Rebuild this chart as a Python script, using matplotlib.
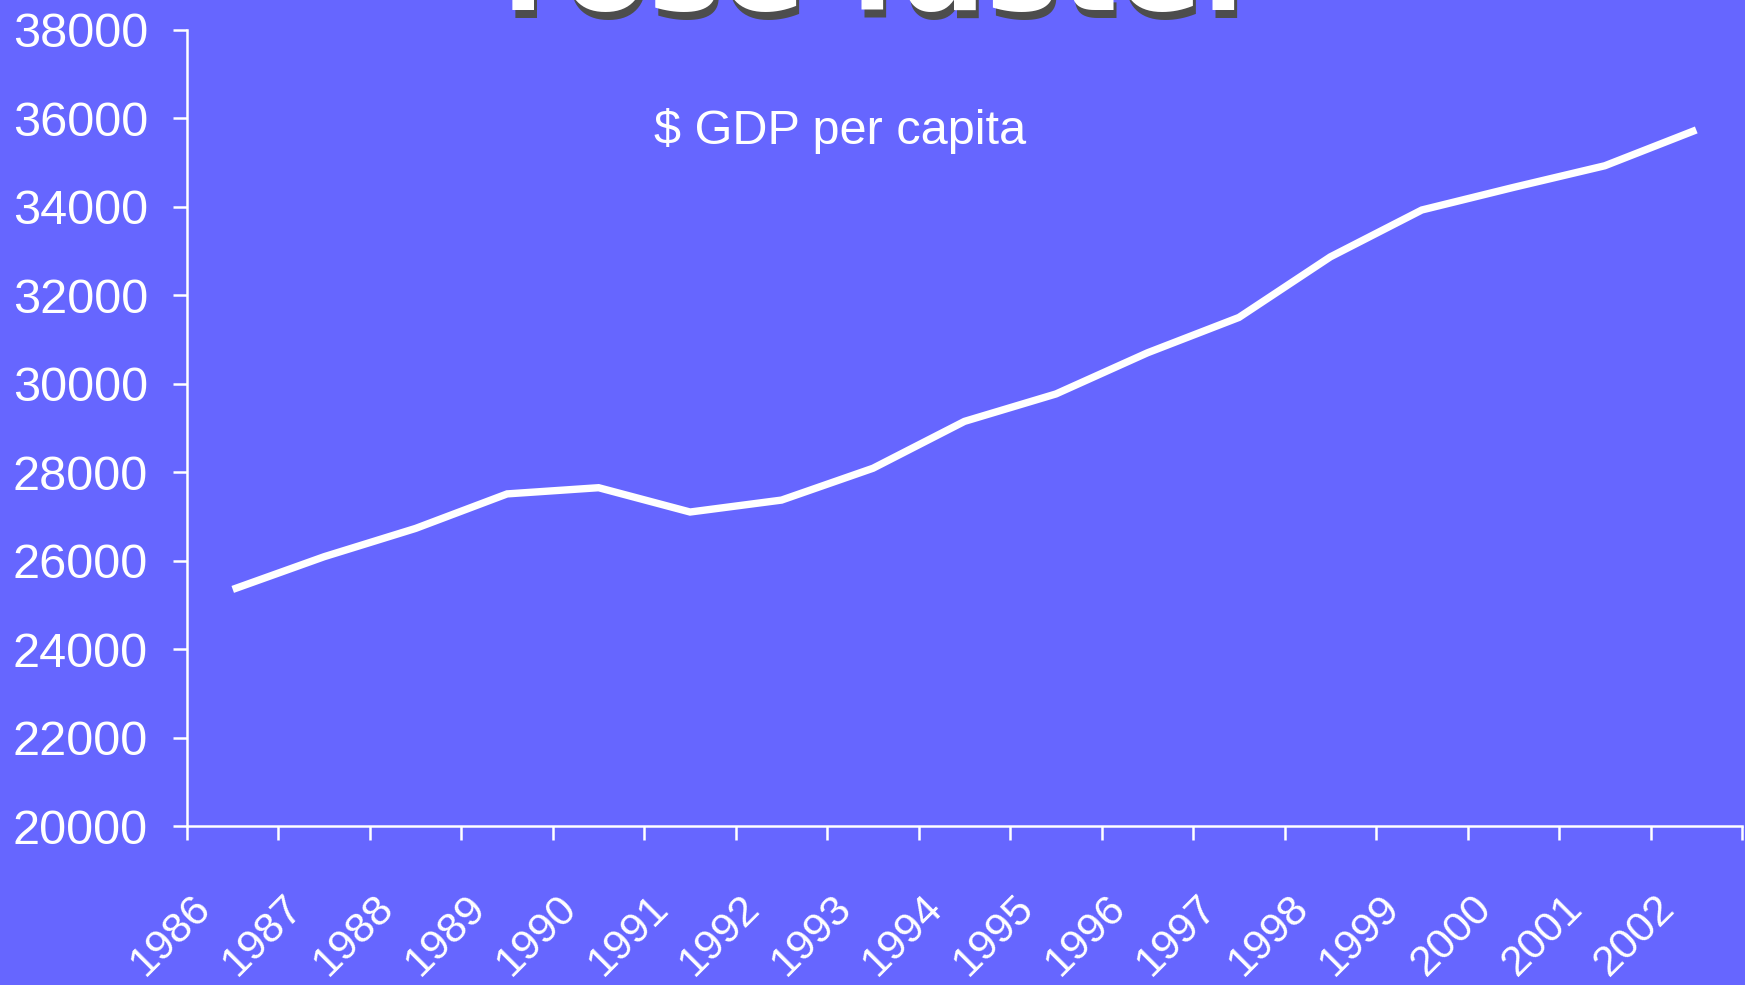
import matplotlib
matplotlib.use("Agg")
import matplotlib.pyplot as plt
from matplotlib.transforms import ScaledTranslation
import numpy as np

years = ["1986", "1987", "1988", "1989", "1990", "1991", "1992", "1993", "1994",
         "1995", "1996", "1997", "1998", "1999", "2000", "2001", "2002"]
gdp_per_capita = [25350, 26090, 26730, 27510, 27650, 27100, 27370, 28090, 29150,
                  29770, 30700, 31500, 32870, 33930, 34440, 34930, 35740]
y_ticks = [20000, 22000, 24000, 26000, 28000, 30000, 32000, 34000, 36000, 38000]
title_text = "rose faster"
series_label = "$ GDP per capita"

BG = "#6666FF"
W, H, DPI = 1745, 985, 100

fig = plt.figure(figsize=(W / DPI, H / DPI), dpi=DPI, facecolor=BG)
ax = fig.add_axes([187 / W, 1 - 826 / H, (1742 - 187) / W, (826 - 30) / H])
ax.set_facecolor(BG)

n = len(years)
centers = np.arange(n) + 0.5
ax.plot(centers, gdp_per_capita, color="white", lw=5.3,
        solid_capstyle="butt", solid_joinstyle="miter", clip_on=False)

ax.set_xlim(0, n)
ax.set_ylim(y_ticks[0], y_ticks[-1])

for s in ["top", "right"]:
    ax.spines[s].set_visible(False)
for s in ["left", "bottom"]:
    ax.spines[s].set_color("white")
    ax.spines[s].set_linewidth(1.8)

font = "Liberation Sans"
ax.set_yticks(y_ticks)
ax.set_yticklabels([str(v) for v in y_ticks], fontsize=35, color="white",
                   family=font)
ax.tick_params(axis="y", length=10, width=1.8, color="white", pad=18)

# boundary ticks (minor) and centered labels (major)
ax.set_xticks(np.arange(n + 1), minor=True)
ax.tick_params(axis="x", which="minor", length=10, width=1.8, color="white")
ax.set_xticks(centers)
ax.set_xticklabels(years, fontsize=31, color="white", family=font,
                   rotation=45, ha="right", va="center", rotation_mode="anchor")
ax.tick_params(axis="x", which="major", length=0, pad=54.5)
off = ScaledTranslation(-28 / DPI, 0, fig.dpi_scale_trans)
for lab in ax.get_xticklabels():
    lab.set_transform(lab.get_transform() + off)

ax.text((654 - 187) / (1742 - 187), (826 - 144) / (826 - 30), series_label,
        transform=ax.transAxes, fontsize=35, color="white", family=font,
        ha="left", va="baseline")

# cut-off slide title with shadow
tx, ty = 502 / W, 1 - 10 / H
fig.text(tx + 3 / W, ty - 8 / H, title_text, fontsize=89, weight="bold",
         family="DejaVu Sans", color="#4d4d4d", ha="left", va="baseline")
fig.text(tx, ty, title_text, fontsize=89, weight="bold",
         family="DejaVu Sans", color="white", ha="left", va="baseline")

fig.savefig("out.png", dpi=DPI, facecolor=BG)
